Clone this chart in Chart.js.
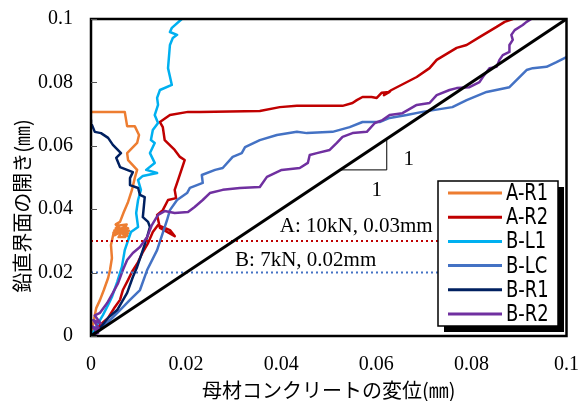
<!DOCTYPE html>
<html>
<head>
<meta charset="utf-8">
<script src="https://cdn.jsdelivr.net/npm/chart.js@4.4.1/dist/chart.umd.min.js"></script>
<style>
  html, body { margin: 0; padding: 0; background: #fff; }
</style>
</head>
<body>
<canvas id="chart" width="579" height="401"></canvas>
<script>
// Series names / colours
const seriesNames = ['A-R1', 'A-R2', 'B-L1', 'B-LC', 'B-R1', 'B-R2'];
const seriesColors = ['#ED7D31', '#C00000', '#00B0F0', '#4472C4', '#002060', '#7030A0'];

// Tick labels
const xTickLabels = ['0', '0.02', '0.04', '0.06', '0.08', '0.1'];
const yTickLabels = ['0', '0.02', '0.04', '0.06', '0.08', '0.1'];

// A-R1
const aR1X = [0, 0.0006, 0.0011, 0.0019, 0.0027, 0.0036, 0.004, 0.0044, 0.0042, 0.0048, 0.0074, 0.005, 0.0078, 0.0047, 0.008, 0.0049, 0.0079, 0.0052, 0.0077, 0.0055, 0.0075, 0.0058, 0.0072, 0.0052, 0.0061, 0.0069, 0.0078, 0.0086, 0.0092, 0.0097, 0.0078, 0.0076, 0.0097, 0.0101, 0.0092, 0.0076, 0.0071, 0];
const aR1Y = [0, 0.005, 0.0088, 0.0114, 0.0145, 0.0183, 0.0208, 0.0246, 0.0287, 0.0328, 0.0347, 0.0318, 0.034, 0.0325, 0.0332, 0.0333, 0.0324, 0.034, 0.0316, 0.0348, 0.0352, 0.0312, 0.0312, 0.0352, 0.036, 0.0391, 0.0423, 0.046, 0.0498, 0.0524, 0.0555, 0.0577, 0.0609, 0.0634, 0.0662, 0.0662, 0.0707, 0.0707];

// A-R2
const aR2X = [0, 0.0019, 0.0036, 0.005, 0.0061, 0.0067, 0.0078, 0.0086, 0.0099, 0.0109, 0.012, 0.013, 0.0141, 0.0166, 0.0176, 0.0145, 0.0139, 0.0151, 0.0162, 0.0179, 0.0176, 0.0183, 0.0197, 0.0187, 0.0176, 0.0155, 0.0151, 0.0145, 0.0166, 0.0204, 0.0229, 0.0355, 0.0397, 0.0433, 0.0529, 0.055, 0.0559, 0.0571, 0.059, 0.0601, 0.0611, 0.0628, 0.0616, 0.0632, 0.0685, 0.0712, 0.0727, 0.0769, 0.079, 0.0817, 0.0853, 0.087, 0.0887];
const aR2Y = [0, 0.0035, 0.0057, 0.0091, 0.0114, 0.0145, 0.0177, 0.0202, 0.0233, 0.0265, 0.0293, 0.0328, 0.035, 0.0334, 0.0315, 0.0341, 0.0382, 0.0397, 0.0429, 0.0435, 0.0461, 0.0492, 0.0555, 0.0565, 0.0587, 0.0618, 0.0659, 0.0675, 0.0697, 0.0707, 0.0707, 0.071, 0.0722, 0.0726, 0.0726, 0.0735, 0.0744, 0.0754, 0.0754, 0.0751, 0.0767, 0.077, 0.076, 0.0776, 0.0817, 0.0845, 0.0871, 0.0909, 0.0918, 0.0943, 0.0975, 0.0991, 0.1];

// B-L1
const bL1X = [0, 0.0013, 0.0025, 0.0036, 0.0044, 0.0055, 0.0065, 0.0071, 0.0084, 0.0099, 0.0095, 0.0099, 0.0105, 0.0099, 0.0109, 0.0139, 0.0116, 0.0134, 0.0124, 0.0134, 0.0126, 0.013, 0.0141, 0.0134, 0.0141, 0.0139, 0.0145, 0.017, 0.0162, 0.0166, 0.0172, 0.0181, 0.0166, 0.017, 0.0191];
const bL1Y = [0, 0.0035, 0.0066, 0.0098, 0.0123, 0.017, 0.0218, 0.0271, 0.0328, 0.0344, 0.0388, 0.0429, 0.0461, 0.0492, 0.0505, 0.0514, 0.0524, 0.0546, 0.0577, 0.0609, 0.0618, 0.065, 0.0672, 0.0697, 0.0729, 0.0751, 0.0776, 0.0792, 0.0845, 0.0918, 0.094, 0.095, 0.0959, 0.0972, 0.1];

// B-LC
const bLCX = [0, 0.0019, 0.0034, 0.0061, 0.0082, 0.0103, 0.0118, 0.0139, 0.0151, 0.016, 0.0166, 0.0181, 0.0202, 0.0208, 0.0235, 0.0233, 0.0261, 0.0277, 0.0298, 0.0317, 0.0324, 0.0355, 0.0391, 0.0433, 0.0454, 0.0508, 0.0544, 0.0571, 0.0607, 0.0628, 0.0664, 0.0697, 0.076, 0.079, 0.0832, 0.088, 0.0916, 0.0929, 0.0958, 0.0979, 0.1];
const bLCY = [0, 0.0019, 0.0041, 0.0082, 0.0114, 0.0145, 0.0208, 0.0271, 0.0325, 0.0366, 0.0397, 0.0429, 0.0451, 0.0467, 0.0483, 0.0508, 0.0524, 0.053, 0.0565, 0.0577, 0.0596, 0.0618, 0.0634, 0.0644, 0.064, 0.0644, 0.0659, 0.0675, 0.0675, 0.0688, 0.0697, 0.0707, 0.0722, 0.0744, 0.077, 0.0785, 0.0839, 0.0845, 0.0849, 0.0864, 0.088];

// B-R1
const bR1X = [0, 0.0019, 0.0036, 0.0055, 0.0076, 0.0088, 0.0097, 0.0109, 0.0118, 0.0124, 0.012, 0.0109, 0.0113, 0.0103, 0.0099, 0.0082, 0.0082, 0.0088, 0.0061, 0.0053, 0.0063, 0.0046, 0.0036, 0.0021, 0.0008, 0.0002, 0];
const bR1Y = [0, 0.0025, 0.0057, 0.0082, 0.0136, 0.0186, 0.0218, 0.0271, 0.0312, 0.0344, 0.036, 0.0375, 0.0438, 0.0445, 0.0467, 0.0476, 0.0498, 0.0517, 0.0533, 0.0562, 0.0577, 0.0603, 0.0625, 0.064, 0.0644, 0.0666, 0.0681];

// B-R2
const bR2X = [0, 0.0015, 0.0002, 0.0018, 0.0005, 0.002, 0.0008, 0.0019, 0.0034, 0.0046, 0.0057, 0.0067, 0.0076, 0.0088, 0.0103, 0.0118, 0.0128, 0.0141, 0.0155, 0.0176, 0.0204, 0.0218, 0.0235, 0.025, 0.0277, 0.0313, 0.0355, 0.037, 0.0401, 0.0439, 0.0456, 0.046, 0.0475, 0.0502, 0.0517, 0.0529, 0.055, 0.058, 0.0597, 0.0613, 0.0628, 0.0655, 0.0685, 0.0712, 0.0727, 0.0754, 0.0769, 0.0796, 0.0817, 0.0824, 0.0838, 0.0853, 0.0859, 0.0866, 0.088, 0.088, 0.0887, 0.0884, 0.0891, 0.0908, 0.0916, 0.0926];
const bR2Y = [0, 0.001, 0.003, 0.002, 0.005, 0.004, 0.0065, 0.0073, 0.0104, 0.0136, 0.0167, 0.0208, 0.024, 0.0262, 0.0281, 0.0312, 0.035, 0.0382, 0.0394, 0.0388, 0.0391, 0.0407, 0.0429, 0.0451, 0.0461, 0.0467, 0.047, 0.0502, 0.0524, 0.053, 0.0546, 0.0571, 0.0577, 0.0587, 0.0609, 0.0628, 0.064, 0.0644, 0.0672, 0.0681, 0.0697, 0.0703, 0.0729, 0.0735, 0.076, 0.0776, 0.0782, 0.0785, 0.0801, 0.0817, 0.0845, 0.0849, 0.0871, 0.0886, 0.0896, 0.0918, 0.0934, 0.095, 0.0965, 0.0981, 0.0991, 0.1];

// 1:1 line and slope triangle
const diagX = [0, 0.1];
const diagY = [0, 0.1];
const triX = [0.0524, 0.0622, 0.0622];
const triY = [0.0524, 0.0524, 0.0622];

// Threshold levels (A: 0.03mm, B: 0.02mm)
const levelValues = [0.03, 0.02];
const levelColors = ['#C00000', '#4472C4'];
const levelTexts = ['A: 10kN, 0.03mm', 'B: 7kN, 0.02mm'];

const seriesX = [aR1X, aR2X, bL1X, bLCX, bR1X, bR2X];
const seriesY = [aR1Y, aR2Y, bL1Y, bLCY, bR1Y, bR2Y];

function toPoints(xs, ys) {
  return xs.map((v, i) => ({ x: v, y: ys[i] }));
}

// Build datasets
const datasets = seriesNames.map((name, i) => ({
  label: name,
  data: toPoints(seriesX[i], seriesY[i]),
  borderColor: seriesColors[i],
  borderWidth: 2.5,
  borderJoinStyle: 'round',
  borderCapStyle: 'round',
  order: 10 - i,
  inLegend: true,
}));

levelValues.forEach((v, i) => {
  datasets.push({
    label: 'level' + i,
    data: [{ x: 0, y: v }, { x: 0.1, y: v }],
    borderColor: levelColors[i],
    borderWidth: 2,
    borderDash: [2, 3],
    order: 1,
  });
});

datasets.push({
  label: 'diag',
  data: toPoints(diagX, diagY),
  borderColor: '#000',
  borderWidth: 3,
  order: 0,
});
datasets.push({
  label: 'tri',
  data: toPoints(triX, triY),
  borderColor: '#000',
  borderWidth: 1,
  order: 0,
});

const serif = "'Liberation Serif', serif";
const gothic = "'Noto Sans CJK JP', sans-serif";

// Frame, ticks, labels, legend
const decor = {
  id: 'decor',
  afterDatasetsDraw(chart) {
    const { ctx, chartArea: a, scales } = chart;
    const x = scales.x;
    const y = scales.y;
    ctx.save();

    // frame
    ctx.strokeStyle = '#000';
    ctx.lineWidth = 2.5;
    ctx.strokeRect(a.left, a.top, a.right - a.left, a.bottom - a.top);

    // inner y ticks
    ctx.lineWidth = 1;
    ctx.strokeStyle = '#555';
    y.ticks.forEach((t) => {
      const py = Math.round(y.getPixelForValue(t.value)) + 0.5;
      ctx.beginPath();
      ctx.moveTo(a.left, py);
      ctx.lineTo(a.left + 6, py);
      ctx.stroke();
    });

    // level texts
    ctx.fillStyle = '#000';
    ctx.font = '21px ' + serif;
    ctx.textBaseline = 'middle';
    ctx.textAlign = 'left';
    ctx.fillText(levelTexts[0], x.getPixelForValue(0.0397), y.getPixelForValue(0.0344));
    ctx.fillText(levelTexts[1], x.getPixelForValue(0.0303), y.getPixelForValue(0.0237));

    // slope "1" labels
    ctx.textAlign = 'center';
    ctx.fillText('1', x.getPixelForValue(0.0668), y.getPixelForValue(0.0557));
    ctx.fillText('1', x.getPixelForValue(0.0601), y.getPixelForValue(0.046));

    // legend box with shadow
    const lx = 438, ly = 181, lw = 120, lh = 145;
    ctx.fillStyle = '#000';
    ctx.fillRect(lx + 6, ly + 6, lw, lh);
    ctx.fillStyle = '#fff';
    ctx.fillRect(lx, ly, lw, lh);
    ctx.lineWidth = 1.5;
    ctx.strokeStyle = '#000';
    ctx.strokeRect(lx, ly, lw, lh);

    const items = chart.data.datasets.filter((d) => d.inLegend);
    items.forEach((d, i) => {
      const ry = 193 + i * 24.2;
      ctx.strokeStyle = d.borderColor;
      ctx.lineWidth = 3;
      ctx.beginPath();
      ctx.moveTo(448, ry);
      ctx.lineTo(502, ry);
      ctx.stroke();
      ctx.save();
      ctx.translate(506, ry + 1);
      ctx.scale(0.78, 1);
      ctx.fillStyle = '#000';
      ctx.font = "23px 'DejaVu Sans'";
      ctx.textAlign = 'left';
      ctx.textBaseline = 'middle';
      ctx.fillText(d.label, 0, 0);
      ctx.restore();
    });

    // axis titles
    ctx.fillStyle = '#000';
    ctx.font = '20px ' + gothic;
    ctx.textAlign = 'center';
    ctx.textBaseline = 'middle';
    ctx.fillText('母材コンクリートの変位(㎜)', (a.left + a.right) / 2, 390);
    ctx.save();
    ctx.translate(22, 206);
    ctx.rotate(-Math.PI / 2);
    ctx.fillText('鉛直界面の開き(㎜)', 0, 0);
    ctx.restore();

    ctx.restore();
  },
};

const chart = new Chart(document.getElementById('chart'), {
  type: 'scatter',
  data: { datasets: datasets },
  options: {
    responsive: false,
    animation: false,
    events: [],
    showLine: true,
    elements: {
      point: { radius: 0 },
      line: { tension: 0, fill: false },
    },
    layout: {
      padding: { left: 0, top: 19, right: 0, bottom: 0 },
    },
    plugins: {
      legend: { display: false },
      tooltip: { enabled: false },
    },
    scales: {
      x: {
        type: 'linear',
        min: 0,
        max: 0.1,
        grid: { drawOnChartArea: false, tickLength: 17, tickColor: 'transparent' },
        border: { display: false },
        ticks: {
          stepSize: 0.02,
          color: '#000',
          padding: 0,
          maxRotation: 0,
          font: { family: serif, size: 20 },
          callback: (v) => xTickLabels[Math.round(v / 0.02)],
        },
        afterFit: (scale) => {
          scale.height = 65;
        },
      },
      y: {
        type: 'linear',
        min: 0,
        max: 0.1,
        grid: { drawOnChartArea: false, tickLength: 16, tickColor: 'transparent' },
        border: { display: false },
        ticks: {
          stepSize: 0.02,
          color: '#000',
          padding: 2,
          font: { family: serif, size: 20 },
          callback: (v) => yTickLabels[Math.round(v / 0.02)],
        },
        afterFit: (scale) => {
          scale.width = 91;
        },
      },
    },
  },
  plugins: [decor],
});
</script>
</body>
</html>
